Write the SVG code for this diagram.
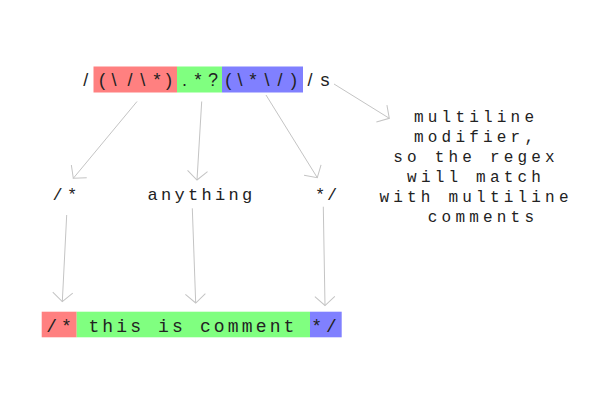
<svg xmlns="http://www.w3.org/2000/svg" width="600" height="400" viewBox="0 0 600 400">
<style>
.sans{font-family:"Liberation Sans",Arial,sans-serif;font-size:18px;fill:#222;text-anchor:middle}
.mono{font-family:"Liberation Mono","Courier New",monospace;font-size:17px;fill:#222}
.note{font-family:"Liberation Mono","Courier New",monospace;font-size:16px;fill:#222;text-anchor:middle}
.big{font-size:18px}
.mid{text-anchor:middle}
.r{fill:#ff8080}.g{fill:#80ff80}.b{fill:#8080ff}
.conn line{stroke:#c4c4c4;stroke-width:1;fill:none}
</style>
<defs>
<marker id="ah" markerUnits="userSpaceOnUse" markerWidth="24" markerHeight="24" refX="12" refY="12" orient="auto" viewBox="0 0 24 24">
<path d="M3,2 L12,12 L3,22" fill="none" stroke="#c4c4c4" stroke-width="1"/>
</marker>
</defs>
<rect width="600" height="400" fill="#fff"/>
<g id="regex">
<rect class="r" x="93.5" y="66.5" width="83.5" height="26"/>
<rect class="g" x="177" y="66.5" width="45" height="26"/>
<rect class="b" x="222" y="66.5" width="81" height="26"/>
<text class="sans" y="85.7" x="85.8">/</text>
<text class="sans" y="85.7" x="102 114 130 142.7 157 169">(\/\*)</text>
<text class="sans" y="85.7" x="184.5 198 213">.*?</text>
<text class="sans" y="85.7" x="228.3 240 253 267 280 294">(\*\/)</text>
<text class="sans" y="85.7" x="310 325">/s</text>
</g>
<g id="label-open">
<text class="mono mid" y="200" x="57.5 72">/*</text>
</g>
<g id="label-anything">
<text class="mono" y="200" x="147.5" letter-spacing="3.3">anything</text>
</g>
<g id="label-close">
<text class="mono mid" y="200" x="320 332">*/</text>
</g>
<g id="note">
<text class="note" letter-spacing="4.2">
<tspan x="483" y="121.7">multiline</tspan>
<tspan x="483" y="141.7">modifier,</tspan>
<tspan x="483" y="161.7">so the regex</tspan>
<tspan x="483" y="181.7">will match</tspan>
<tspan x="483" y="201.7">with multiline</tspan>
<tspan x="483" y="221.7">comments</tspan>
</text>
</g>
<g id="comment">
<rect class="r" x="41.7" y="311.7" width="35" height="25.6"/>
<rect class="g" x="76.7" y="311.7" width="233.3" height="25.6"/>
<rect class="b" x="310" y="311.7" width="31.7" height="25.6"/>
<text class="mono big mid" y="332.3" x="51.7 66.3">/*</text>
<text class="mono big" y="332.3" x="88.4" letter-spacing="3.14">this is comment</text>
<text class="mono big mid" y="332.3" x="316.7 331.3">*/</text>
</g>
<g id="connectors" class="conn">
<line x1="137" y1="101.5" x2="73.3" y2="178.3" marker-end="url(#ah)"/>
<line x1="201.7" y1="101.5" x2="197" y2="180" marker-end="url(#ah)"/>
<line x1="266" y1="95" x2="317.3" y2="177.7" marker-end="url(#ah)"/>
<line x1="334" y1="84" x2="389.3" y2="118.3" marker-end="url(#ah)"/>
<line x1="66.7" y1="215" x2="62.3" y2="301.7" marker-end="url(#ah)"/>
<line x1="192.3" y1="208.3" x2="195.7" y2="303" marker-end="url(#ah)"/>
<line x1="323.3" y1="206.7" x2="325" y2="305.5" marker-end="url(#ah)"/>
</g>
</svg>
